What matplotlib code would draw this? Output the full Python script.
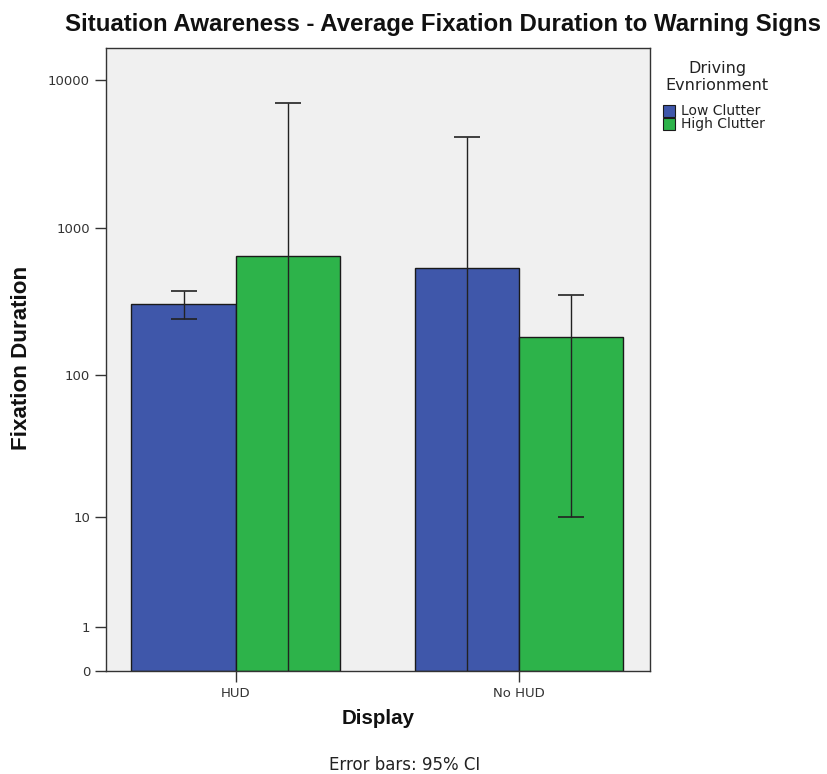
import numpy as np
import matplotlib
matplotlib.use("Agg")
import matplotlib.pyplot as plt
from matplotlib.patches import Rectangle

displays = ["HUD", "No HUD"]
environments = ["Low Clutter", "High Clutter"]
means_low = [305, 530]
means_high = [640, 180]
ci_lower_low = [239, -3040]
ci_upper_low = [371, 4100]
ci_lower_high = [-5680, 10]
ci_upper_high = [6960, 352]
yticks = [0, 1, 10, 100, 1000, 10000]

colors = ["#3F57AA", "#2DB34A"]
W, H = 828, 774

def fwd(x):
    x = np.asarray(x, dtype=float)
    return np.sign(x) * np.log10(1 + np.abs(x))

def inv(y):
    y = np.asarray(y, dtype=float)
    return np.sign(y) * (10 ** np.abs(y) - 1)

fig = plt.figure(figsize=(8.28, 7.74), dpi=100)
ax = fig.add_axes([106/W, 1 - 671/H, 544/W, 623/H])
ax.set_facecolor("#F0F0F0")
ax.set_yscale("function", functions=(fwd, inv))

x = np.arange(len(displays))
w = 0.369
series = [(means_low, ci_lower_low, ci_upper_low), (means_high, ci_lower_high, ci_upper_high)]
for i, (m, lo, hi) in enumerate(series):
    xs = x + (i - 0.5) * w
    ax.bar(xs, m, width=w, color=colors[i], edgecolor="#1a1a1a", linewidth=1.0, zorder=2)
    m = np.array(m); lo = np.array(lo); hi = np.array(hi)
    ax.errorbar(xs, m, yerr=[m - lo, hi - m], fmt="none", ecolor="#222222",
                elinewidth=1.0, capsize=9.4, capthick=1.2, zorder=3)

ax.set_xlim(-0.459, 1.463)
ax.set_ylim(0, 16440)
ax.set_yticks(yticks)
ax.set_yticklabels([str(t) for t in yticks])
ax.yaxis.set_minor_locator(matplotlib.ticker.NullLocator())
ax.set_xticks(x)
ax.set_xticklabels(displays)
ax.tick_params(axis="both", direction="out", length=8, width=1.0, colors="#333333",
               labelsize=9.5, labelcolor="#333333")
for s in ax.spines.values():
    s.set_color("#333333")
    s.set_linewidth(1.0)

fig.canvas.draw()
renderer = fig.canvas.get_renderer()

def fit_text(xp, yp, s, target_w, size0, **kw):
    t = fig.text(xp / W, 1 - yp / H, s, fontsize=size0, **kw)
    bb = t.get_window_extent(renderer)
    span = bb.height if kw.get("rotation", 0) == 90 else bb.width
    t.set_fontsize(size0 * target_w / span)
    return t

fit_text(443, 25, "Situation Awareness - Average Fixation Duration to Warning Signs", 755, 16,
         ha="center", va="center", fontweight="bold", family="Liberation Sans", color="#111111")
fit_text(22, 358, "Fixation Duration", 185, 14, rotation=90, ha="center", va="center",
         fontweight="bold", family="Liberation Sans", color="#111111")
fit_text(378, 719, "Display", 73, 14, ha="center", va="center",
         fontweight="bold", family="Liberation Sans", color="#111111")
fig.text(405/W, 1 - 765/H, "Error bars: 95% CI", ha="center", va="center",
         fontsize=12, color="#222222")

# legend
fig.text(717/W, 1 - 69/H, "Driving", ha="center", va="center", fontsize=11.5, color="#222222")
fig.text(717/W, 1 - 85/H, "Evnrionment", ha="center", va="center", fontsize=11.5, color="#222222")
for i, lab in enumerate(environments):
    yc = 111 + i * 13
    fig.patches.append(Rectangle((663/W, 1 - (yc + 6)/H), 12/W, 12/H, transform=fig.transFigure,
                                 facecolor=colors[i], edgecolor="#1a1a1a", linewidth=0.8))
    fig.text(681/W, 1 - yc/H, lab, ha="left", va="center", fontsize=10, color="#222222")

fig.savefig("out.png", dpi=100)
